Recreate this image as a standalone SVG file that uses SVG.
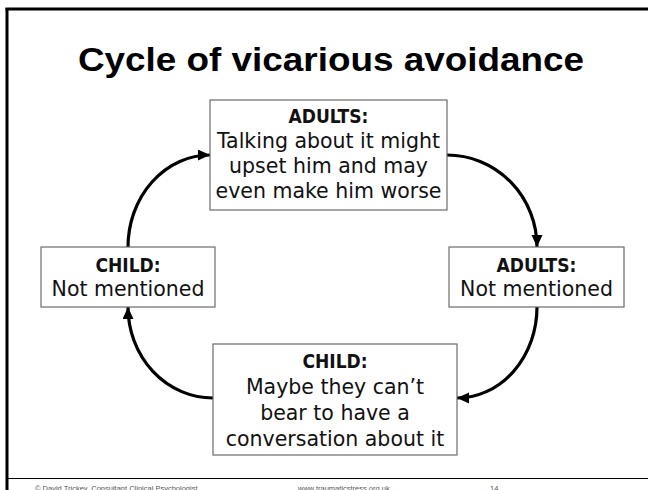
<svg xmlns="http://www.w3.org/2000/svg" width="648" height="490" viewBox="0 0 648 490">
  <style>
    .frame { stroke: #000; fill: none; }
    .box { fill: #fff; stroke: #6a6a6a; stroke-width: 1.2; }
    .title { font-family: "Liberation Sans", Arial, sans-serif; font-weight: bold; font-size: 33px; fill: #000; text-anchor: middle; }
    .head { font-family: "DejaVu Sans Condensed", "DejaVu Sans", sans-serif; font-weight: bold; font-size: 19px; fill: #111; text-anchor: middle; }
    .body { font-family: "DejaVu Sans", sans-serif; font-size: 20.5px; fill: #111; text-anchor: middle; }
    .link { fill: none; stroke: #000; stroke-width: 3.2; }
    .foot { font-family: "Liberation Sans", Arial, sans-serif; font-size: 7.5px; fill: #555; }
  </style>
  <defs>
    <marker id="arrow" markerUnits="userSpaceOnUse" markerWidth="13" markerHeight="12" refX="12" refY="5.5" orient="auto">
      <path d="M0,0 L12,5.5 L0,11 z" fill="#000"/>
    </marker>
  </defs>

  <rect width="648" height="490" fill="#fff"/>

  <!-- slide frame -->
  <g id="frame">
    <line class="frame" x1="5.5" y1="9" x2="648" y2="9" stroke-width="3"/>
    <line class="frame" x1="7" y1="8" x2="7" y2="490" stroke-width="3"/>
    <line class="frame" x1="7" y1="478.5" x2="648" y2="478.5" stroke-width="1"/>
  </g>

  <text class="title" x="331" y="71" textLength="506" lengthAdjust="spacingAndGlyphs">Cycle of vicarious avoidance</text>

  <!-- connectors: quarter arcs around the cycle -->
  <g id="connectors">
    <path class="link" d="M128,247 A82,92 0 0 1 210,155" marker-end="url(#arrow)"/>
    <path class="link" d="M447,155 A90,92 0 0 1 537,247" marker-end="url(#arrow)"/>
    <path class="link" d="M537,307 A80,91 0 0 1 457,398" marker-end="url(#arrow)"/>
    <path class="link" d="M213,398 A85,91 0 0 1 128,307" marker-end="url(#arrow)"/>
  </g>

  <g id="adults-talking">
    <rect class="box" x="210" y="100" width="237" height="110"/>
    <text class="head" x="328.5" y="123">ADULTS:</text>
    <text class="body" x="328.5" y="148">Talking about it might</text>
    <text class="body" x="328.5" y="173">upset him and may</text>
    <text class="body" x="328.5" y="198">even make him worse</text>
  </g>

  <g id="adults-not-mentioned">
    <rect class="box" x="449" y="247" width="175" height="60"/>
    <text class="head" x="536.5" y="272">ADULTS:</text>
    <text class="body" x="536.5" y="296">Not mentioned</text>
  </g>

  <g id="child-maybe">
    <rect class="box" x="213" y="344" width="244" height="111"/>
    <text class="head" x="335" y="368">CHILD:</text>
    <text class="body" x="335" y="394">Maybe they can’t</text>
    <text class="body" x="335" y="420">bear to have a</text>
    <text class="body" x="335" y="446">conversation about it</text>
  </g>

  <g id="child-not-mentioned">
    <rect class="box" x="41" y="247" width="174" height="60"/>
    <text class="head" x="128" y="272">CHILD:</text>
    <text class="body" x="128" y="296">Not mentioned</text>
  </g>

  <g id="footer">
    <text class="foot" x="35" y="491">© David Trickey, Consultant Clinical Psychologist</text>
    <text class="foot" x="298" y="491">www.traumaticstress.org.uk</text>
    <text class="foot" x="490" y="491">14</text>
  </g>
</svg>
